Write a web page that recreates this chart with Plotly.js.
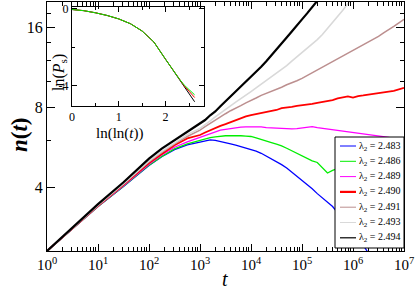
<!DOCTYPE html>
<html><head><meta charset="utf-8">
<script src="https://cdn.plot.ly/plotly-3.0.1.min.js"></script>
<style>html,body{margin:0;padding:0;background:#fff}#chart{width:415px;height:291px}</style>
</head><body><div id="chart"></div>
<script>
// log10(t) grid shared by all series
const logT = [0,0.5,1,1.5,2,2.25,2.5,2.75,
  3.0,3.1,3.2,3.3,3.4,3.5,3.6,3.7,3.8,3.9,
  4.0,4.1,4.2,4.3,4.4,4.5,4.6,4.7,4.8,4.9,
  5.0,5.1,5.2,5.3,5.4,5.5,5.6,5.7,5.8,5.9,
  6.0,6.1,6.2,6.3,6.4,6.5,6.6,6.7,6.8,6.9,7.0];

const labels = ['λ<sub>2</sub> = 2.483','λ<sub>2</sub> = 2.486','λ<sub>2</sub> = 2.489','λ<sub>2</sub> = 2.490','λ<sub>2</sub> = 2.491','λ<sub>2</sub> = 2.493','λ<sub>2</sub> = 2.494'];
const colors = ['#0000ff','#00ee00','#ff00ff','#ff0000','#bc8f8f','#d9d9d9','#000000'];

const nBlue = [2.30,2.80,3.38,4.02,4.82,5.20,5.53,5.77,
  5.92,5.98,6.02,6.00,5.95,5.88,5.82,5.75,5.68,5.62,
  5.56,5.46,5.36,5.24,5.12,4.98,4.86,4.72,4.56,4.40,
  4.25,4.10,3.94,3.78,3.64,3.52,3.38,3.20,3.04,2.88,
  2.72,2.56,2.42,2.26,2.10];
const nGreen = [2.30,2.80,3.38,4.03,4.84,5.22,5.57,5.82,
  6.00,6.08,6.14,6.18,6.22,6.24,6.25,6.26,6.24,6.22,
  6.20,6.12,6.05,5.95,5.88,5.80,5.72,5.60,5.48,5.36,
  5.26,5.15,5.02,4.95,4.72,4.52,4.62,4.70,4.55,4.40,
  4.30,4.15,4.05,3.95,3.85,3.75,3.68,3.60,3.55,3.50,3.45];
const nMagenta = [2.30,2.80,3.39,4.05,4.88,5.28,5.65,5.92,
  6.15,6.28,6.38,6.47,6.55,6.60,6.65,6.68,6.72,6.74,
  6.75,6.72,6.74,6.70,6.68,6.66,6.65,6.63,6.62,6.64,
  6.68,6.72,6.75,6.70,6.66,6.62,6.58,6.55,6.50,6.46,
  6.42,6.38,6.35,6.32,6.28,6.24,6.20,6.15,6.08,6.02,5.96];
const nRed = [2.30,2.80,3.40,4.08,4.93,5.33,5.75,6.10,
  6.28,6.42,6.55,6.68,6.80,6.90,7.02,7.12,7.25,7.38,
  7.46,7.52,7.60,7.65,7.70,7.80,7.92,7.95,8.02,8.08,
  8.12,8.20,8.22,8.30,8.36,8.42,8.50,8.62,8.70,8.78,
  8.68,8.80,8.85,8.92,8.98,9.05,9.10,9.15,9.20,9.35,9.45];
const nRosy = [2.30,2.81,3.41,4.10,4.98,5.40,5.82,6.20,
  6.55,6.75,6.95,7.15,7.35,7.55,7.75,7.90,8.10,8.30,
  8.45,8.65,8.85,9.00,9.20,9.35,9.50,9.70,9.85,10.05,
  10.25,10.50,10.75,11.00,11.25,11.50,11.80,12.10,12.40,12.75,
  13.05,13.30,13.65,14.00,14.35,14.75,15.20,15.60,16.10,16.60,17.10];
const nGray = [2.30,2.81,3.42,4.12,5.02,5.45,5.88,6.30,
  6.65,6.85,7.10,7.35,7.60,7.85,8.10,8.35,8.60,8.90,
  9.15,9.45,9.75,10.05,10.35,10.70,11.05,11.45,11.90,12.35,
  12.80,13.30,13.80,14.35,15.00,15.80,16.60,17.50,18.50,19.60,
  20.70,21.90];
const nBlack = [2.30,2.82,3.45,4.17,5.12,5.58,6.00,6.45,
  6.90,7.15,7.45,7.70,8.05,8.40,8.75,9.10,9.55,9.95,
  10.35,10.80,11.35,11.90,12.50,13.15,13.85,14.60,15.40,16.30,
  17.10,18.00,19.00,20.10,21.20];

// inset: ln(ln(t)) vs ln(P_s)
const insetU = [0,0.25,0.5,0.75,1.0,1.25,1.5,1.75,2.0,2.1,2.2,2.3,2.4,2.5,2.62];
const lnPBlack = [-0.03,-0.09,-0.20,-0.34,-0.52,-0.77,-1.15,-1.72,-2.62,-2.98,-3.35,-3.70,-4.05,-4.40,-4.82];
const lnPRed   = [-0.03,-0.09,-0.20,-0.34,-0.52,-0.77,-1.15,-1.72,-2.62,-2.98,-3.35,-3.68,-4.00,-4.27,-4.60];
const lnPGreen = [-0.03,-0.09,-0.20,-0.34,-0.52,-0.77,-1.15,-1.72,-2.62,-2.98,-3.34,-3.66,-3.96,-4.20,-4.46];

const majorX = [0,1,2,3,4,5,6,7].map(k => Math.pow(10,k));
const majorXText = [0,1,2,3,4,5,6,7].map(k => '10<sup>'+k+'</sup>');
const minorX = [];
for (let k = 0; k < 7; k++) for (let m = 2; m <= 9; m++) minorX.push(m*Math.pow(10,k));
const majorY = [4,8,16], majorYText = ['4','8','16'];
const minorY = [6,10,12,14,18];

const tVals = logT.map(v => Math.pow(10, v));
const series = [nBlue,nGreen,nMagenta,nRed,nRosy,nGray,nBlack];
const widths = [1.3,1.3,1.3,1.8,1.5,1.6,2.2];
const legendWidths = [1,1,1,2.2,1,1,1.2];

const serif = "'Liberation Serif', 'DejaVu Serif', serif";
const traces = series.map((s,i) => ({
  x: tVals, y: s, type:'scatter', mode:'lines', name: labels[i], showlegend:false,
  line:{color:colors[i], width:widths[i]}, xaxis:'x', yaxis:'y'
}));
[[lnPBlack,'#000000'],[lnPRed,'#ff0000'],[lnPGreen,'#00ee00']].forEach(p => {
  traces.push({x: insetU, y: p[0], type:'scatter', mode:'lines', showlegend:false,
    line:{color:p[1], width:1}, xaxis:'x2', yaxis:'y2'});
});
traces.push({x:[1], y:[3], xaxis:'x3', yaxis:'y3', mode:'markers', marker:{opacity:0}, showlegend:false, hoverinfo:'skip'});

// plot-area pixel helpers for the hand-built legend (paper coords)
const L = 47, R = 404, T = 2, B = 251;
const px = v => (v - L) / (R - L);
const py = v => (B - v) / (B - T);

const shapes = [{type:'rect', xref:'paper', yref:'paper', x0:px(335), x1:px(404), y0:py(248), y1:py(137),
  fillcolor:'#fff', line:{color:'#000', width:1}, layer:'above'}];
const annotations = [];
labels.forEach((lab,i) => {
  const yc = 146 + i*15.3;
  shapes.push({type:'line', xref:'paper', yref:'paper', x0:px(340), x1:px(356), y0:py(yc), y1:py(yc),
    line:{color:colors[i], width:legendWidths[i]}, layer:'above'});
  annotations.push({xref:'paper', yref:'paper', x:px(357), y:py(yc), xanchor:'left', yanchor:'middle',
    text:lab, showarrow:false, font:{size:10, family:serif, color:'#000'}});
});
annotations.push({xref:'paper', yref:'paper', x:px(19), y:py(135), text:'<b><i>n</i>(<i>t</i>)</b>', textangle:-90,
  showarrow:false, xanchor:'center', yanchor:'middle', font:{size:23, family:serif, color:'#000'}});
annotations.push({xref:'paper', yref:'paper', x:px(225), y:py(279), text:'<i>t</i>',
  showarrow:false, xanchor:'center', yanchor:'middle', font:{size:20, family:serif, color:'#000'}});
annotations.push({xref:'paper', yref:'paper', x:px(120), y:py(133), text:'ln(ln(<i>t</i>))',
  showarrow:false, xanchor:'center', yanchor:'middle', font:{size:15, family:serif, color:'#000'}});
annotations.push({xref:'paper', yref:'paper', x:px(59), y:py(73), text:'ln(<i>P</i><sub>s</sub>)', textangle:-90,
  showarrow:false, xanchor:'center', yanchor:'middle', font:{size:16, family:serif, color:'#000'}});

const yr = [Math.log10(2.30), Math.log10(19.87)];
const layout = {
  width:415, height:291,
  margin:{l:47, r:11, t:2, b:40},
  paper_bgcolor:'#fff', plot_bgcolor:'rgba(0,0,0,0)',
  showlegend:false,
  font:{family:serif, color:'#000'},
  shapes: shapes, annotations: annotations,
  xaxis:{type:'log', range:[0,7], tickmode:'array', tickvals:majorX, ticktext:majorXText,
    ticks:'inside', ticklen:7, tickcolor:'#000', showline:true, linecolor:'#000', linewidth:1,
    mirror:'ticks', showgrid:false, zeroline:false, tickfont:{size:15, family:serif}},
  yaxis:{type:'log', range:yr, tickmode:'array', tickvals:majorY, ticktext:majorYText,
    ticks:'inside', ticklen:8, tickcolor:'#000', showline:true, linecolor:'#000', linewidth:1,
    mirror:'ticks', showgrid:false, zeroline:false, tickfont:{size:16, family:serif}},
  xaxis3:{type:'log', range:[0,7], overlaying:'x', anchor:'y', tickmode:'array', tickvals:minorX,
    ticks:'inside', ticklen:4, tickcolor:'#000', showticklabels:false, showline:false,
    mirror:'ticks', showgrid:false, zeroline:false},
  yaxis3:{type:'log', range:yr, overlaying:'y', anchor:'x', tickmode:'array', tickvals:minorY,
    ticks:'inside', ticklen:4, tickcolor:'#000', showticklabels:false, showline:false,
    mirror:'ticks', showgrid:false, zeroline:false},
  xaxis2:{domain:[px(72),px(204)], anchor:'y2', range:[0,2.82], tickmode:'array', tickvals:[0,1,2], ticktext:['0','1','2'],
    ticks:'inside', ticklen:5, tickcolor:'#000', showline:true, linecolor:'#000', linewidth:1, mirror:'ticks',
    minor:{ticks:'inside', ticklen:3, dtick:0.5, tick0:0, tickcolor:'#000'},
    showgrid:false, zeroline:false, tickfont:{size:12, family:serif}},
  yaxis2:{domain:[py(106),py(7)], anchor:'x2', range:[-5.04,0.10], tickmode:'array', tickvals:[0,-4], ticktext:['0','-4'],
    ticks:'inside', ticklen:5, tickcolor:'#000', showline:true, linecolor:'#000', linewidth:1, mirror:'ticks',
    minor:{ticks:'inside', ticklen:3, dtick:2, tick0:0, tickcolor:'#000'},
    showgrid:false, zeroline:false, tickfont:{size:12, family:serif}}
};
Plotly.newPlot('chart', traces, layout, {staticPlot:true, displayModeBar:false});
</script></body></html>
